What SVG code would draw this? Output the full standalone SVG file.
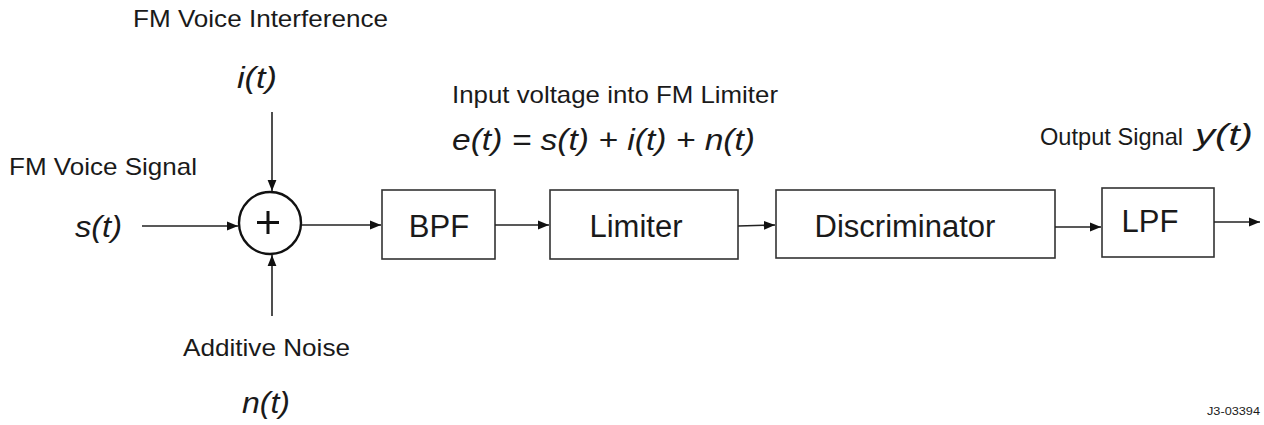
<svg xmlns="http://www.w3.org/2000/svg" width="1264" height="425" viewBox="0 0 1264 425">
<style>
.t{font-family:"Liberation Sans",Arial,sans-serif;fill:#1a1a1a}
.lab{font-size:24px}
.it{font-style:italic;font-size:30px}
.box{fill:#fff;stroke:#333;stroke-width:1.6}
.bt{font-size:31px;text-anchor:middle}
.ln{stroke:#222;stroke-width:1.6;fill:none}
</style>
<defs>
<marker id="ah" viewBox="0 0 10 10" refX="10" refY="5" markerWidth="11" markerHeight="11" markerUnits="userSpaceOnUse" orient="auto">
<path d="M0,1 L10,5 L0,9 Z" fill="#111"/>
</marker>
</defs>
<rect width="1264" height="425" fill="#fff"/>

<g id="labels">
<text class="t lab" x="133" y="27" textLength="255" lengthAdjust="spacingAndGlyphs">FM Voice Interference</text>
<text class="t it" x="237" y="88" textLength="40" lengthAdjust="spacingAndGlyphs">i(t)</text>
<text class="t lab" x="9" y="175" textLength="188" lengthAdjust="spacingAndGlyphs">FM Voice Signal</text>
<text class="t it" x="75" y="237" textLength="47" lengthAdjust="spacingAndGlyphs">s(t)</text>
<text class="t lab" x="183" y="356" textLength="167" lengthAdjust="spacingAndGlyphs">Additive Noise</text>
<text class="t it" x="242" y="413" textLength="48" lengthAdjust="spacingAndGlyphs">n(t)</text>
<text class="t lab" x="452" y="103" textLength="326" lengthAdjust="spacingAndGlyphs">Input voltage into FM Limiter</text>
<text class="t it" x="452" y="150" textLength="303" lengthAdjust="spacingAndGlyphs">e(t) = s(t) + i(t) + n(t)</text>
<text class="t lab" x="1040" y="145" textLength="143" lengthAdjust="spacingAndGlyphs">Output Signal</text>
<text class="t it" x="1195" y="145" textLength="58" lengthAdjust="spacingAndGlyphs">y(t)</text>
<text class="t" x="1207" y="415" font-size="11" textLength="53" lengthAdjust="spacingAndGlyphs">J3-03394</text>
</g>

<g id="summer">
<circle cx="270" cy="223" r="31" fill="#fff" stroke="#111" stroke-width="2.4"/>
<path d="M268,211 V234 M257,222.5 H279" stroke="#111" stroke-width="3"/>
</g>

<g id="bpf">
<rect class="box" x="382" y="190" width="113" height="69"/>
<text class="t bt" x="439" y="237">BPF</text>
</g>
<g id="limiter">
<rect class="box" x="550" y="190" width="188" height="69"/>
<text class="t bt" x="636" y="237">Limiter</text>
</g>
<g id="discriminator">
<rect class="box" x="776" y="190" width="279" height="68"/>
<text class="t bt" x="905" y="237">Discriminator</text>
</g>
<g id="lpf">
<rect class="box" x="1102" y="188" width="112" height="69"/>
<text class="t bt" x="1150" y="232">LPF</text>
</g>

<g id="connectors">
<line class="ln" x1="272" y1="112" x2="272" y2="191" marker-end="url(#ah)"/>
<line class="ln" x1="272" y1="316" x2="272" y2="255" marker-end="url(#ah)"/>
<line class="ln" x1="142" y1="226" x2="238" y2="226" marker-end="url(#ah)"/>
<line class="ln" x1="302" y1="225" x2="381" y2="225" marker-end="url(#ah)"/>
<line class="ln" x1="495" y1="225" x2="549" y2="225" marker-end="url(#ah)"/>
<line class="ln" x1="738" y1="226" x2="775" y2="225" marker-end="url(#ah)"/>
<line class="ln" x1="1055" y1="227" x2="1101" y2="227" marker-end="url(#ah)"/>
<line class="ln" x1="1214" y1="222" x2="1260" y2="222" marker-end="url(#ah)"/>
</g>
</svg>
